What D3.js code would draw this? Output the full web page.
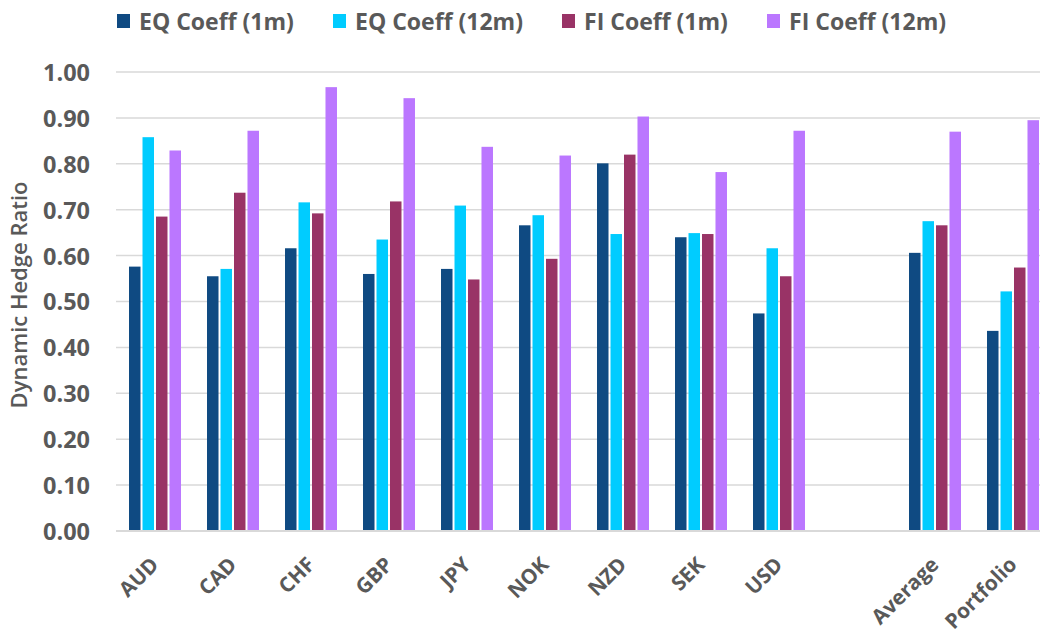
<!DOCTYPE html>
<html><head><meta charset="utf-8">
<script src="https://cdn.jsdelivr.net/npm/d3@7"></script>
<style>
html,body{margin:0;padding:0;background:#fff;}
svg{display:block;font-family:"Open Sans",sans-serif;}
</style></head>
<body>
<svg id="chart" width="1040" height="637"></svg>
<script>
const categories = ["AUD","CAD","CHF","GBP","JPY","NOK","NZD","SEK","USD","","Average","Portfolio"];
const seriesNames = ["EQ Coeff (1m)","EQ Coeff (12m)","FI Coeff (1m)","FI Coeff (12m)"];
const eq1m  = [0.576,0.555,0.616,0.560,0.571,0.666,0.801,0.640,0.474,null,0.606,0.436];
const eq12m = [0.858,0.571,0.716,0.635,0.709,0.688,0.647,0.649,0.616,null,0.675,0.522];
const fi1m  = [0.685,0.737,0.692,0.718,0.548,0.593,0.820,0.647,0.555,null,0.666,0.574];
const fi12m = [0.829,0.872,0.967,0.943,0.837,0.818,0.903,0.782,0.872,null,0.870,0.895];
const yTicks = [0,0.1,0.2,0.3,0.4,0.5,0.6,0.7,0.8,0.9,1.0];
const colors = ["#0F4A82","#00CCFF","#993366","#BB77FF"];
const seriesValues = [eq1m, eq12m, fi1m, fi12m];

(function(){
const svg = d3.select("#chart");
const textColor = "#595959";
const fam = "'Open Sans',sans-serif";
const plotLeft = 116, plotBottom = 531, plotTop = 72;
const catKeys = categories.map((c,i)=> c === "" ? "__gap" + i : c);

function fitSize(sample, weight, target) {
  const t = svg.append("text").attr("font-family", fam).attr("font-weight", weight)
    .attr("font-size", 20).text(sample);
  const len = t.node().getComputedTextLength();
  t.remove();
  return len > 0 ? 20 * target / len : 20;
}
const legendSize = fitSize("EQ Coeff (1m)", 700, 155);
const tickSize = fitSize("1.00", 700, 47);
const titleSize = fitSize("Dynamic Hedge Ratio", 600, 227);
const xLabSize = fitSize("Portfolio", 700, 91);

const x = d3.scaleBand().domain(catKeys).range([plotLeft, plotLeft + 12*78])
  .paddingInner(0.308).paddingOuter(0.154);
const xs = d3.scaleBand().domain(seriesNames).range([0, x.bandwidth()]);
const y = d3.scaleLinear().domain([0,1]).range([plotBottom, plotTop]);

// gridlines
svg.append("g").selectAll("line").data(yTicks.slice(1)).join("line")
  .attr("x1", plotLeft).attr("x2", 1040)
  .attr("y1", d=>y(d)).attr("y2", d=>y(d))
  .attr("stroke", "#D9D9D9").attr("stroke-width", 1.5);

// y axis labels
const yAxis = d3.axisLeft(y).tickValues(yTicks).tickFormat(d3.format(".2f")).tickSize(0).tickPadding(0);
const ya = svg.append("g").attr("transform", `translate(90,0)`).call(yAxis);
ya.select(".domain").remove();
ya.selectAll("text").attr("fill", textColor).attr("font-size", tickSize).attr("font-weight", 700)
  .attr("font-family", fam).attr("dy", "0.36em");

// y title
svg.append("text").attr("transform", `translate(27,295) rotate(-90)`)
  .attr("text-anchor","middle").attr("fill", textColor).attr("font-family", fam)
  .attr("font-size", titleSize).attr("font-weight", 600).text("Dynamic Hedge Ratio");

// bars
const rows = [];
categories.forEach((c,i)=>{
  seriesNames.forEach((s,j)=>{
    const v = seriesValues[j][i];
    if (v != null) rows.push({key: catKeys[i], s, v, j});
  });
});
svg.append("g").selectAll("rect").data(rows).join("rect")
  .attr("x", d=> x(d.key) + xs(d.s) + 1)
  .attr("width", xs.bandwidth() - 2)
  .attr("y", d=> y(d.v))
  .attr("height", d=> y(0) - y(d.v))
  .attr("fill", d=> colors[d.j]);

// baseline
svg.append("line").attr("x1", plotLeft).attr("x2", 1040).attr("y1", y(0)).attr("y2", y(0))
  .attr("stroke", "#D9D9D9").attr("stroke-width", 2);

// x axis labels
const xAxis = d3.axisBottom(x).tickSize(0).tickFormat(d => d.startsWith("__gap") ? "" : d);
const xa = svg.append("g").attr("transform", `translate(0,${plotBottom})`).call(xAxis);
xa.select(".domain").remove();
xa.selectAll(".tick text")
  .attr("fill", textColor).attr("font-size", xLabSize).attr("font-weight", 700)
  .attr("font-family", fam)
  .attr("text-anchor", "end")
  .attr("y", 0).attr("dy", 0)
  .attr("transform", "translate(5,35) rotate(-45)");

// legend
const legX = [117, 333, 562, 767];
const lg = svg.append("g").selectAll("g").data(seriesNames).join("g")
  .attr("transform", (d,i)=>`translate(${legX[i]},0)`);
lg.append("rect").attr("x",0).attr("y",14).attr("width",13).attr("height",14)
  .attr("fill", (d,i)=>colors[i]);
lg.append("text").attr("x", 22).attr("y", 30).attr("fill", textColor).attr("font-family", fam)
  .attr("font-size", legendSize).attr("font-weight", 700).text(d=>d);
})();
</script>
</body></html>
